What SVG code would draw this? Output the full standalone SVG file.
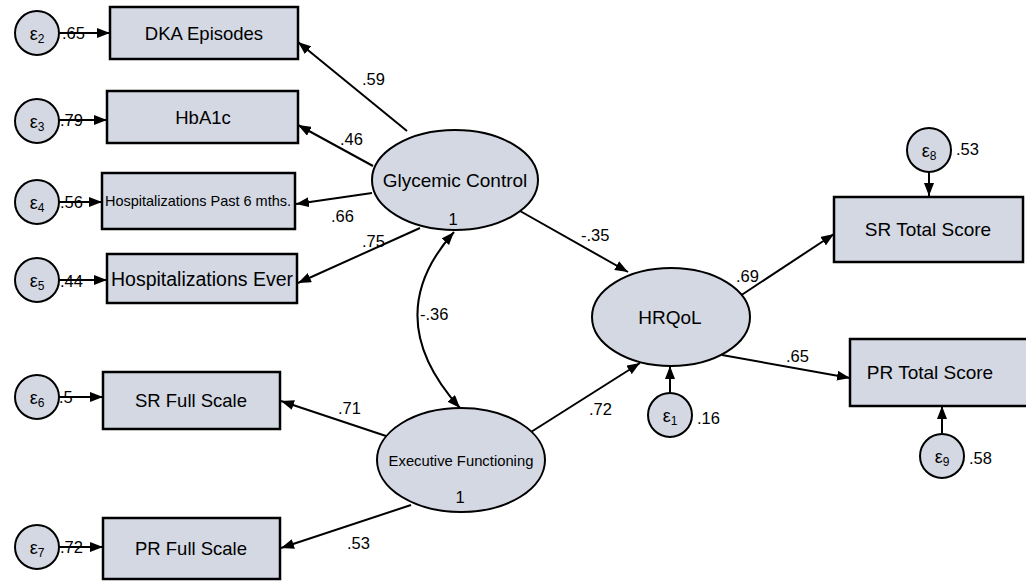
<svg xmlns="http://www.w3.org/2000/svg" width="1026" height="582" viewBox="0 0 1026 582">
<style>
.bx{fill:#d3d8e3;stroke:#000;stroke-width:2.5}
.nd{fill:#d3d8e3;stroke:#000;stroke-width:2}
.t{font-family:"Liberation Sans",Arial,sans-serif;fill:#000;text-anchor:middle}
.lb{font-family:"Liberation Sans",Arial,sans-serif;font-size:16.5px;fill:#000}
.c{stroke:#000;stroke-width:2;fill:none;marker-end:url(#ah)}
</style>
<defs>
<marker id="ah" markerUnits="userSpaceOnUse" markerWidth="14" markerHeight="10" refX="13" refY="5" orient="auto-start-reverse">
<path d="M0,0 L13,5 L0,10 z" fill="#000"/>
</marker>
</defs>
<rect width="1026" height="582" fill="#fff"/>
<g id="connectors">
<line class="c" x1="407" y1="131" x2="298" y2="42"/>
<line class="c" x1="373" y1="166" x2="298" y2="125"/>
<line class="c" x1="372" y1="193" x2="296" y2="204"/>
<line class="c" x1="420" y1="228" x2="298" y2="283"/>
<line class="c" x1="520" y1="211" x2="628" y2="272"/>
<path class="c" d="M454,232 Q378,317 460,408" style="marker-start:url(#ah)"/>
<line class="c" x1="386" y1="436" x2="281" y2="401"/>
<line class="c" x1="411" y1="505" x2="281" y2="548"/>
<line class="c" x1="531" y1="432" x2="640" y2="363"/>
<line class="c" x1="740" y1="296" x2="834" y2="234"/>
<line class="c" x1="722" y1="355" x2="850" y2="378"/>
<line class="c" x1="670" y1="392" x2="670" y2="366"/>
<line class="c" x1="929" y1="172" x2="929" y2="196"/>
<line class="c" x1="942" y1="433" x2="942" y2="406"/>
<line class="c" x1="59" y1="33" x2="110" y2="33"/>
<line class="c" x1="59" y1="120" x2="107" y2="120"/>
<line class="c" x1="59" y1="202" x2="102" y2="202"/>
<line class="c" x1="59" y1="280" x2="107" y2="280"/>
<line class="c" x1="59" y1="397" x2="103" y2="397"/>
<line class="c" x1="59" y1="547" x2="103" y2="547"/>
<text class="lb" x="362" y="85">.59</text>
<text class="lb" x="340" y="145">.46</text>
<text class="lb" x="331" y="222">.66</text>
<text class="lb" x="362" y="247">.75</text>
<text class="lb" x="581" y="241">-.35</text>
<text class="lb" x="420" y="320">-.36</text>
<text class="lb" x="338" y="414">.71</text>
<text class="lb" x="347" y="549">.53</text>
<text class="lb" x="589" y="415">.72</text>
<text class="lb" x="736" y="282">.69</text>
<text class="lb" x="786" y="362">.65</text>
<text class="lb" x="697" y="424">.16</text>
<text class="lb" x="956" y="155">.53</text>
<text class="lb" x="969" y="464">.58</text>
<text class="lb" x="62" y="39">.65</text>
<text class="lb" x="60" y="126">.79</text>
<text class="lb" x="60" y="208">.56</text>
<text class="lb" x="60" y="287">.44</text>
<text class="lb" x="59" y="403">.5</text>
<text class="lb" x="60" y="553">.72</text>
</g>
<g id="box-dka"><rect class="bx" x="110" y="7" width="188" height="52"/><text class="t" x="204" y="40" font-size="18.5">DKA Episodes</text></g>
<g id="box-hba1c"><rect class="bx" x="107" y="91" width="191" height="52"/><text class="t" x="203" y="124" font-size="18.5">HbA1c</text></g>
<g id="box-hosp6"><rect class="bx" x="102" y="173" width="193" height="56"/><text class="t" x="198" y="206" font-size="14.5">Hospitalizations Past 6 mths.</text></g>
<g id="box-hospever"><rect class="bx" x="107" y="254" width="190" height="49"/><text class="t" x="202" y="286" font-size="19.5">Hospitalizations Ever</text></g>
<g id="box-srfull"><rect class="bx" x="103" y="372" width="177" height="57"/><text class="t" x="191" y="407" font-size="18.5">SR Full Scale</text></g>
<g id="box-prfull"><rect class="bx" x="103" y="518" width="177" height="61"/><text class="t" x="191" y="555" font-size="18.5">PR Full Scale</text></g>
<g id="box-srtotal"><rect class="bx" x="834" y="197" width="189" height="65"/><text class="t" x="928" y="236" font-size="19">SR Total Score</text></g>
<g id="box-prtotal"><rect class="bx" x="850" y="339" width="180" height="67"/><text class="t" x="930" y="379" font-size="19">PR Total Score</text></g>
<g id="latent-glycemic"><ellipse class="nd" cx="455" cy="180" rx="83" ry="50"/><text class="t" x="455" y="187" font-size="19">Glycemic Control</text><text class="t" x="453" y="225" font-size="16.5">1</text></g>
<g id="latent-hrqol"><ellipse class="nd" cx="671" cy="317" rx="79" ry="49"/><text class="t" x="670" y="324" font-size="19">HRQoL</text></g>
<g id="latent-exec"><ellipse class="nd" cx="461" cy="460" rx="84" ry="52"/><text class="t" x="461" y="466" font-size="14.8">Executive Functioning</text><text class="t" x="460" y="503" font-size="16.5">1</text></g>
<g id="err-e2"><circle class="nd" cx="37" cy="33" r="22"/><text class="t" x="37" y="40" font-size="18">ε<tspan font-size="12" dy="3">2</tspan></text></g>
<g id="err-e3"><circle class="nd" cx="37" cy="121" r="22"/><text class="t" x="37" y="128" font-size="18">ε<tspan font-size="12" dy="3">3</tspan></text></g>
<g id="err-e4"><circle class="nd" cx="37" cy="202" r="22"/><text class="t" x="37" y="209" font-size="18">ε<tspan font-size="12" dy="3">4</tspan></text></g>
<g id="err-e5"><circle class="nd" cx="37" cy="280" r="22"/><text class="t" x="37" y="287" font-size="18">ε<tspan font-size="12" dy="3">5</tspan></text></g>
<g id="err-e6"><circle class="nd" cx="37" cy="397" r="22"/><text class="t" x="37" y="404" font-size="18">ε<tspan font-size="12" dy="3">6</tspan></text></g>
<g id="err-e7"><circle class="nd" cx="37" cy="547" r="22"/><text class="t" x="37" y="554" font-size="18">ε<tspan font-size="12" dy="3">7</tspan></text></g>
<g id="err-e1"><circle class="nd" cx="670" cy="415" r="22"/><text class="t" x="670" y="422" font-size="18">ε<tspan font-size="12" dy="3">1</tspan></text></g>
<g id="err-e8"><circle class="nd" cx="929" cy="150" r="22"/><text class="t" x="929" y="157" font-size="18">ε<tspan font-size="12" dy="3">8</tspan></text></g>
<g id="err-e9"><circle class="nd" cx="942" cy="456" r="22"/><text class="t" x="942" y="463" font-size="18">ε<tspan font-size="12" dy="3">9</tspan></text></g>
</svg>
